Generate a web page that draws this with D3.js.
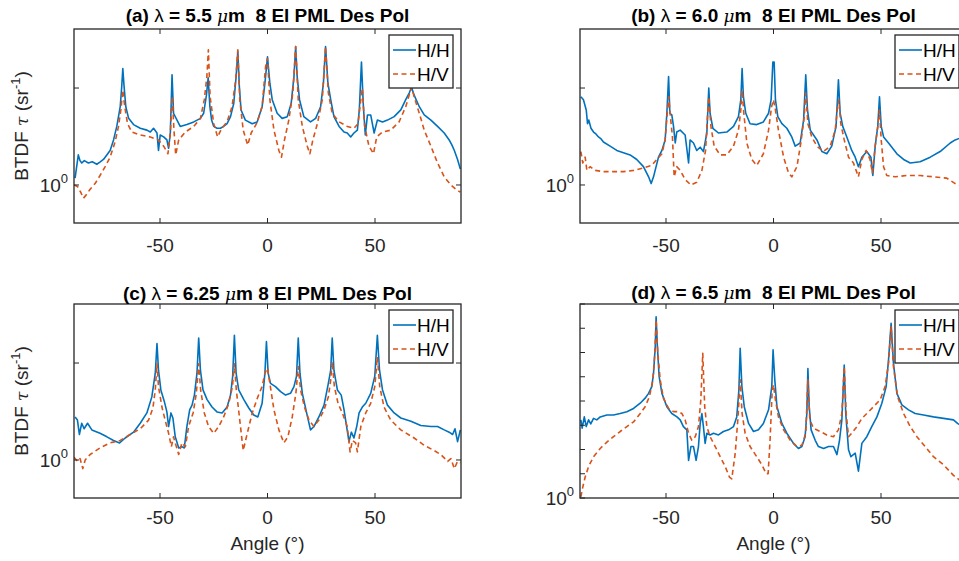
<!DOCTYPE html>
<html>
<head>
<meta charset="utf-8">
<script src="https://cdn.jsdelivr.net/npm/d3@7"></script>
<style>
  body { margin: 0; background: #fff; }
  svg { display: block; font-family: "Liberation Sans", Arial, Helvetica, sans-serif; }
  text { white-space: pre; }
</style>
</head>
<body>
<svg id="fig" width="959" height="561"></svg>
<script>
// BTDF (sr^-1) versus scattering angle (deg), co-polarised (H/H) and cross-polarised (H/V)

const seriesNames = ["H/H", "H/V"];
const xTicks = [-50, 0, 50];

// (a) lambda = 5.5 um
const aHH = [[-89.5,1.05],[-88,1.24],[-87.2,1.19],[-86.4,1.17],[-85.2,1.19],[-83.3,1.17],[-81.5,1.18],[-79.4,1.16],[-77.8,1.18],[-76.3,1.20],[-73.2,1.28],[-71.6,1.38],[-70.1,1.52],[-68.5,1.75],[-67.8,2.02],[-67.3,2.30],[-66.7,2.02],[-65.9,1.75],[-64.6,1.61],[-62.3,1.54],[-59.2,1.50],[-56.1,1.48],[-54.5,1.46],[-53,1.50],[-51.4,1.45],[-50.7,1.28],[-49.9,1.43],[-48.3,1.41],[-46.8,1.38],[-46,1.30],[-45.2,1.45],[-44.4,2.20],[-43.7,1.67],[-42.1,1.59],[-40.6,1.52],[-37.5,1.54],[-34.3,1.57],[-31.2,1.61],[-29.7,1.67],[-28.4,1.90],[-27.6,2.15],[-26.8,1.75],[-26,1.59],[-25,1.52],[-23.5,1.50],[-21.9,1.50],[-20.4,1.52],[-18.8,1.55],[-17.2,1.63],[-15.7,1.79],[-14.6,2.17],[-13.8,2.60],[-13.1,2.02],[-12.3,1.71],[-10.3,1.59],[-7.1,1.55],[-4.8,1.57],[-2.5,1.75],[-1.2,2.07],[0,2.50],[1.1,2.07],[2.2,1.84],[4.5,1.67],[6.8,1.61],[9.2,1.63],[11,1.79],[12.3,2.17],[13.1,2.69],[13.8,2.17],[14.9,1.84],[16.9,1.63],[20,1.57],[22.4,1.61],[24.7,1.75],[26,2.07],[27,2.69],[28.1,2.07],[29.4,1.84],[30.9,1.63],[33.3,1.52],[35.6,1.46],[37.1,1.45],[38.7,1.41],[40.2,1.45],[41.8,1.48],[42.7,1.71],[43.7,2.41],[44.6,1.75],[45.5,1.43],[46.5,1.65],[48,1.65],[49.6,1.45],[51.1,1.59],[53.5,1.57],[55.8,1.59],[58.9,1.63],[62,1.71],[64.3,1.84],[65.9,1.93],[67,2.01],[68.2,1.90],[70.6,1.75],[72.9,1.65],[76,1.59],[79.1,1.52],[82.2,1.45],[84.5,1.38],[85.8,1.33],[86.9,1.28],[88.4,1.20],[89.7,1.12]];
const aHV = [[-90,1.00],[-88.4,0.99],[-86.9,0.95],[-85.6,0.91],[-84.4,0.93],[-82.5,0.97],[-80.2,1.01],[-77.9,1.07],[-75.5,1.14],[-73.2,1.22],[-70.9,1.36],[-69.3,1.52],[-68.2,1.71],[-67.3,1.97],[-66.4,1.75],[-65.1,1.55],[-63.1,1.46],[-59.2,1.43],[-54.5,1.41],[-50.7,1.38],[-48.3,1.32],[-46.3,1.25],[-45.2,1.45],[-44.3,1.88],[-43.5,1.48],[-42.7,1.24],[-41.3,1.38],[-38.2,1.46],[-34.3,1.52],[-31.2,1.61],[-29.4,1.84],[-28.2,2.17],[-27.5,2.63],[-26.7,1.88],[-25,1.55],[-23.2,1.41],[-21.3,1.50],[-18.8,1.57],[-16.5,1.75],[-14.8,2.12],[-13.8,2.63],[-12.9,1.84],[-11.3,1.48],[-9.2,1.33],[-7.6,1.45],[-5.1,1.55],[-2.5,1.75],[-0.9,2.33],[0,2.47],[1.1,1.84],[3,1.48],[5.3,1.28],[6.5,1.22],[7.9,1.38],[9.9,1.59],[11.8,1.93],[13.1,2.69],[14.3,1.84],[16.2,1.52],[18.5,1.32],[19.7,1.25],[21.1,1.38],[23.2,1.55],[25.5,1.84],[27,2.69],[28.3,1.93],[30.1,1.67],[33.3,1.57],[37.1,1.52],[40.2,1.50],[42.1,1.55],[43.4,1.84],[44.1,2.00],[45.2,1.52],[47.2,1.32],[49.3,1.25],[50.8,1.41],[53.5,1.46],[57.3,1.48],[61.2,1.57],[64.3,1.75],[66.2,1.93],[67.1,2.01],[68.2,1.88],[70.6,1.67],[72.9,1.48],[76,1.32],[79.1,1.17],[82.2,1.06],[85.3,1.00],[87.6,0.97],[89.7,0.95]];

// (b) lambda = 6.0 um
const bHH = [[-89.6,1.88],[-88.4,1.84],[-87.1,1.71],[-86.5,1.55],[-85.9,1.59],[-84.9,1.50],[-83.7,1.46],[-82.6,1.44],[-81.4,1.41],[-80.2,1.39],[-79.1,1.36],[-76,1.32],[-72.9,1.28],[-69.8,1.26],[-66.7,1.24],[-63.6,1.20],[-60.5,1.14],[-58.1,1.06],[-56.9,1.01],[-55.8,1.06],[-53.5,1.22],[-51.9,1.28],[-50.4,1.38],[-49.6,1.67],[-48.8,2.17],[-48.2,1.67],[-47.3,1.65],[-46.5,1.52],[-45.7,1.35],[-45,1.46],[-43.4,1.48],[-41.1,1.43],[-39.5,1.17],[-38.8,1.38],[-37.2,1.35],[-35.7,1.28],[-34.1,1.31],[-32.6,1.27],[-31,1.45],[-30.1,2.00],[-29.5,1.67],[-28.2,1.50],[-25.6,1.45],[-21.7,1.46],[-18.6,1.52],[-16.3,1.63],[-15.2,1.84],[-14.6,2.30],[-14,1.88],[-12.9,1.67],[-10.9,1.55],[-7.8,1.54],[-4.7,1.57],[-2.3,1.67],[-1.1,1.84],[-0.3,2.41],[0.3,2.41],[0.9,1.84],[2,1.63],[3.9,1.55],[6.2,1.50],[8.5,1.41],[10.1,1.32],[12.4,1.35],[14,1.59],[15,2.20],[15.8,1.71],[17.1,1.48],[20.2,1.38],[22.5,1.27],[24.8,1.25],[27.1,1.32],[29.1,1.52],[30.2,2.12],[31,1.67],[32.2,1.52],[34.1,1.41],[36.4,1.28],[38,1.22],[39.5,1.14],[41.1,1.22],[43.4,1.27],[45.3,1.22],[46.2,1.07],[47.3,1.32],[48.5,1.52],[49.3,1.88],[50.1,1.52],[51.2,1.41],[53.5,1.35],[57.4,1.25],[60.5,1.20],[63.6,1.17],[68.2,1.18],[72.9,1.22],[77.5,1.27],[82.2,1.35],[84.5,1.38],[87,1.40],[90,1.43]];
const bHV = [[-89.6,1.27],[-88.7,1.17],[-87.6,1.22],[-86.8,1.11],[-85.3,1.14],[-82.9,1.11],[-79.1,1.10],[-74.4,1.10],[-69.8,1.10],[-65.1,1.11],[-60.5,1.13],[-56.6,1.15],[-54.3,1.20],[-51.9,1.25],[-50.4,1.38],[-49.3,1.71],[-48.7,1.88],[-48.1,1.67],[-47,1.41],[-46.2,1.06],[-45,1.14],[-43.4,1.11],[-41.1,1.04],[-38.4,1.00],[-35.7,1.02],[-33.3,1.11],[-31.6,1.28],[-30.7,1.63],[-30.1,1.88],[-29.1,1.52],[-27.6,1.32],[-24.8,1.24],[-21.7,1.24],[-18.6,1.32],[-16.3,1.48],[-15.2,1.71],[-14.6,1.97],[-13.8,1.67],[-12.4,1.35],[-10.1,1.20],[-7.8,1.15],[-4.7,1.25],[-2.3,1.48],[-0.9,1.75],[0,1.84],[0.9,1.71],[2.3,1.48],[4.7,1.22],[7,1.09],[8.5,1.06],[10.9,1.14],[12.7,1.35],[14.3,1.63],[15,1.93],[16,1.55],[17.8,1.41],[20.2,1.32],[23.2,1.27],[26.4,1.32],[28.7,1.48],[29.8,1.75],[30.4,1.84],[31.3,1.55],[32.9,1.38],[34.9,1.22],[37.2,1.17],[39.5,1.06],[41.1,1.20],[43.1,1.28],[44.9,1.20],[46,1.09],[47.3,1.32],[48.5,1.52],[49.3,1.71],[50.1,1.38],[51.2,1.14],[52.7,1.07],[56.6,1.06],[62,1.07],[68.2,1.07],[74.4,1.06],[80.6,1.05],[84.5,1.01],[86.3,1.00],[90,0.99]];

// (c) lambda = 6.25 um
const cHH = [[-89.5,1.36],[-88.4,1.33],[-87.5,1.20],[-86.4,1.30],[-85.3,1.25],[-83.7,1.30],[-81.7,1.24],[-77.9,1.21],[-74.7,1.18],[-71.6,1.15],[-68.8,1.13],[-66.2,1.17],[-62.3,1.22],[-59.2,1.30],[-56.1,1.40],[-53.8,1.57],[-52.2,1.86],[-51.4,2.30],[-50.7,1.90],[-49.6,1.65],[-48,1.52],[-46.8,1.41],[-46,1.27],[-44.9,1.40],[-44,1.35],[-42.9,1.18],[-41.3,1.09],[-39.8,1.10],[-38.7,1.09],[-37.5,1.27],[-36.2,1.43],[-35.1,1.48],[-34,1.59],[-32.8,1.86],[-32,2.39],[-31.2,1.90],[-30,1.65],[-28.1,1.54],[-25.8,1.46],[-23.5,1.41],[-21.1,1.40],[-18.8,1.46],[-17.2,1.59],[-16.2,1.82],[-15.4,2.44],[-14.6,1.86],[-13.4,1.65],[-11,1.54],[-8.7,1.45],[-6.4,1.38],[-4.5,1.36],[-2.5,1.50],[-1.2,1.86],[-0.5,2.33],[0.3,1.86],[1.4,1.73],[3.7,1.69],[6.1,1.63],[8.4,1.59],[10.7,1.61],[12.3,1.69],[13.5,1.82],[14.3,2.39],[15.1,1.86],[16.2,1.61],[18.2,1.40],[20,1.24],[21.6,1.27],[23.9,1.36],[26.3,1.48],[28.3,1.73],[29.4,1.90],[30.1,2.39],[30.9,1.90],[32.5,1.65],[34.3,1.59],[35.6,1.43],[36.8,1.27],[37.9,1.14],[39,1.22],[40.2,1.17],[41.5,1.27],[42.6,1.40],[44.1,1.46],[45.7,1.50],[48,1.61],[49.9,1.82],[51.1,2.44],[52.1,1.90],[53.5,1.65],[55.8,1.48],[58.9,1.40],[62,1.35],[66.7,1.32],[71.3,1.28],[76,1.27],[79.1,1.27],[82.2,1.24],[84.5,1.22],[86.1,1.20],[87.2,1.25],[88.4,1.14],[89.7,1.24]];
const cHV = [[-90,1.02],[-88.4,0.99],[-87.2,1.01],[-85.9,0.94],[-84.8,1.00],[-82.5,1.04],[-77.9,1.09],[-73.2,1.13],[-68.5,1.15],[-63.9,1.20],[-59.2,1.25],[-55.3,1.33],[-53.3,1.45],[-52.2,1.65],[-51.4,1.99],[-50.7,1.69],[-49.1,1.46],[-47.6,1.33],[-46,1.21],[-44.7,1.10],[-43.7,1.18],[-42.4,1.10],[-41.3,1.04],[-39.8,1.13],[-38.2,1.10],[-36.7,1.27],[-34.6,1.40],[-33.1,1.61],[-32,1.99],[-31.1,1.65],[-29.4,1.40],[-27.4,1.27],[-25,1.21],[-22.7,1.27],[-20.4,1.36],[-18,1.50],[-16.3,1.69],[-15.4,1.99],[-14.5,1.65],[-12.9,1.33],[-11.3,1.07],[-9.8,1.18],[-7.1,1.40],[-4.5,1.57],[-2.5,1.69],[-1.2,1.86],[0,1.93],[1.1,1.73],[3,1.43],[5.3,1.24],[7.6,1.13],[9.5,1.18],[11.5,1.36],[13.2,1.61],[14.3,1.95],[15.4,1.65],[17.2,1.46],[19.3,1.33],[21.6,1.27],[23.9,1.33],[26.3,1.43],[28.3,1.57],[29.4,1.77],[30.1,2.02],[31.1,1.69],[32.8,1.50],[34.8,1.40],[37.1,1.27],[38.4,1.06],[39.5,1.15],[41,1.13],[41.8,1.06],[43.4,1.27],[45.7,1.40],[48,1.50],[49.9,1.69],[51.1,2.09],[52.2,1.69],[54.2,1.46],[57.3,1.33],[62,1.24],[68.2,1.17],[72.9,1.11],[77.5,1.07],[80.6,1.04],[83.8,0.99],[85.3,1.01],[86.9,0.94],[88.4,0.99],[89.7,0.98]];

// (d) lambda = 6.5 um
const dHH = [[-89.6,2.10],[-89,1.94],[-88,2.16],[-87.1,1.97],[-86,2.10],[-85,2.02],[-83.7,2.13],[-82.2,2.10],[-80.6,2.16],[-77.5,2.20],[-74.4,2.20],[-71.3,2.23],[-68.2,2.27],[-65.1,2.34],[-62,2.46],[-59.7,2.58],[-58.1,2.70],[-56.6,2.88],[-55.8,3.27],[-55,4.21],[-54.6,5.59],[-54,4.21],[-53.2,3.17],[-51.9,2.70],[-49.6,2.38],[-47.3,2.23],[-44.9,2.16],[-43.4,2.10],[-41.9,1.97],[-40.3,1.91],[-39.5,1.43],[-38.4,1.63],[-37.2,1.63],[-36,1.43],[-34.9,1.63],[-34.1,2.03],[-33.3,2.23],[-32.6,1.97],[-31.8,1.68],[-31,1.85],[-29.5,1.82],[-27.9,1.85],[-25.6,1.82],[-23.3,1.88],[-20.9,1.91],[-18.6,1.97],[-17.1,2.16],[-16.1,2.79],[-15.5,4.14],[-14.7,2.88],[-13.6,2.38],[-11.6,2.03],[-9.3,1.88],[-7,1.91],[-4.7,2.03],[-2.3,2.31],[-0.8,2.88],[-0.2,4.08],[0.6,3.07],[1.6,2.38],[3.9,2.03],[6.2,1.85],[9.3,1.68],[11.6,1.60],[13.2,1.63],[14.7,1.79],[15.5,2.23],[16,3.42],[16.6,2.38],[17.5,1.91],[19.4,1.73],[20.9,1.63],[23.3,1.60],[25.6,1.63],[27.9,1.63],[29.5,1.51],[30.7,1.73],[31.8,2.10],[32.9,3.53],[33.6,2.23],[34.9,1.58],[36,1.48],[38,1.53],[39.5,1.29],[41.1,1.68],[43.4,1.79],[45.7,1.97],[48.1,2.16],[50.4,2.46],[52.4,2.88],[53.5,3.71],[54.7,5.25],[55.8,3.59],[57.4,2.70],[59.7,2.42],[62.8,2.31],[65.9,2.23],[69.8,2.20],[74.4,2.16],[79.1,2.13],[83.7,2.10],[85.6,2.03],[88,1.97],[90,2.00]];
const dHV = [[-89.6,1.01],[-88.7,1.11],[-87.6,1.22],[-86,1.35],[-83.7,1.48],[-80.6,1.60],[-77.5,1.70],[-74.4,1.79],[-71.3,1.88],[-68.2,1.97],[-65.1,2.06],[-62,2.23],[-59.7,2.38],[-57.7,2.62],[-56.1,3.07],[-55.2,3.95],[-54.6,5.42],[-53.8,3.95],[-52.7,3.07],[-51.2,2.58],[-48.8,2.34],[-46.5,2.27],[-44.2,2.27],[-42.6,2.23],[-41.1,2.10],[-39.5,1.85],[-38,1.73],[-36.4,1.79],[-34.9,1.97],[-33.8,2.54],[-32.9,3.95],[-32,2.38],[-31,1.97],[-29.5,1.79],[-27.1,1.63],[-24.8,1.48],[-22.5,1.35],[-20.5,1.22],[-19.4,1.20],[-17.8,1.53],[-16.6,2.10],[-15.5,3.07],[-14.6,2.23],[-13.2,1.85],[-10.9,1.63],[-7.8,1.48],[-5.4,1.37],[-3.4,1.26],[-2.5,1.26],[-1.6,1.73],[-0.6,2.79],[0,2.93],[0.9,2.54],[2.3,2.16],[4.7,1.91],[7.8,1.73],[10.9,1.63],[13.2,1.65],[15,1.85],[16,3.07],[16.9,2.10],[18.6,1.94],[21.7,1.88],[24.8,1.82],[27.9,1.79],[30.2,1.91],[31.8,2.23],[32.9,3.48],[33.8,2.23],[34.9,1.79],[36.4,1.85],[38.8,1.97],[41.1,2.13],[43.4,2.23],[46.5,2.38],[49.6,2.54],[51.9,2.88],[53.5,3.59],[54.7,5.09],[55.8,3.48],[57.7,2.62],[60.5,2.23],[63.6,1.97],[66.7,1.79],[70.5,1.63],[74.4,1.48],[79.1,1.37],[83.7,1.24],[86.3,1.19],[88,1.14],[90,1.08]];

// y ranges and tick values (log axes)
const yRangeABC = [0.762, 3.05];
const yTicksABC = [1, 2];
const yRangeD = [1, Math.pow(10, 0.8)];
const yTicksD = d3.range(0, 9).map(k => Math.pow(10, k / 10));

const panels = [
  { letter: "(a)", wl: "5.5",  gap: "  ", hh: aHH, hv: aHV, x0: 74,  y0: 29,  yr: yRangeABC, yt: yTicksABC, ylab: true,  xlab: false, titleY: 22,  tickY: 252 },
  { letter: "(b)", wl: "6.0",  gap: "  ", hh: bHH, hv: bHV, x0: 580, y0: 29,  yr: yRangeABC, yt: yTicksABC, ylab: false, xlab: false, titleY: 22,  tickY: 252 },
  { letter: "(c)", wl: "6.25", gap: " ",  hh: cHH, hv: cHV, x0: 74,  y0: 304, yr: yRangeABC, yt: yTicksABC, ylab: true,  xlab: true,  titleY: 300, tickY: 524 },
  { letter: "(d)", wl: "6.5",  gap: "  ", hh: dHH, hv: dHV, x0: 580, y0: 304, yr: yRangeD,   yt: yTicksD,   ylab: false, xlab: true,  titleY: 299, tickY: 524 }
];

const W = 387, H = 194;
const axisColor = "#262626";
const colors = ["#0072BD", "#D95319"];
const dashes = [null, "5,3.5"];
const fs = 19;

const svg = d3.select("#fig");

panels.forEach((p, i) => {
  const g = svg.append("g").attr("transform", `translate(${p.x0},${p.y0})`);
  const x = d3.scaleLinear().domain([-90, 90]).range([0, W]);
  const y = d3.scaleLog().domain(p.yr).range([H, 0]);

  // clip region for the curves
  const clipId = "clip" + i;
  g.append("clipPath").attr("id", clipId)
    .append("rect").attr("width", W).attr("height", H);

  const line = d3.line().x(d => x(d[0])).y(d => y(d[1]));
  const plot = g.append("g").attr("clip-path", `url(#${clipId})`);
  [p.hh, p.hv].forEach((s, k) => {
    plot.append("path").datum(s)
      .attr("d", line)
      .attr("fill", "none")
      .attr("stroke", colors[k])
      .attr("stroke-width", 1.6)
      .attr("stroke-linejoin", "round")
      .attr("stroke-dasharray", dashes[k]);
  });

  // box
  g.append("rect").attr("width", W).attr("height", H)
    .attr("fill", "none").attr("stroke", axisColor).attr("stroke-width", 1.3);

  // x ticks (inside, bottom and top) with labels
  const tl = 5;
  xTicks.forEach(t => {
    const xx = x(t);
    g.append("line").attr("x1", xx).attr("x2", xx).attr("y1", H).attr("y2", H - tl)
      .attr("stroke", axisColor).attr("stroke-width", 1);
    g.append("line").attr("x1", xx).attr("x2", xx).attr("y1", 0).attr("y2", tl)
      .attr("stroke", axisColor).attr("stroke-width", 1);
    svg.append("text").attr("x", p.x0 + xx).attr("y", p.tickY)
      .attr("text-anchor", "middle").attr("font-size", fs).attr("fill", axisColor)
      .text(String(t));
  });

  // y ticks (inside, left and right)
  p.yt.forEach(t => {
    const yy = y(t);
    g.append("line").attr("x1", 0).attr("x2", tl).attr("y1", yy).attr("y2", yy)
      .attr("stroke", axisColor).attr("stroke-width", 1);
    g.append("line").attr("x1", W).attr("x2", W - tl).attr("y1", yy).attr("y2", yy)
      .attr("stroke", axisColor).attr("stroke-width", 1);
  });
  // decade label 10^0
  const lab = g.append("text").attr("x", -6).attr("y", y(1) + 7)
    .attr("text-anchor", "end").attr("font-size", fs).attr("fill", axisColor);
  lab.append("tspan").text("10");
  lab.append("tspan").attr("dy", -9).attr("font-size", 13).text("0");

  // title
  const tt = svg.append("text").attr("x", p.x0 + W / 2).attr("y", p.titleY)
    .attr("text-anchor", "middle").attr("font-size", fs).attr("font-weight", "bold").attr("fill", "#000");
  tt.append("tspan").text(p.letter + " ");
  tt.append("tspan").attr("font-weight", "normal").text("λ");
  tt.append("tspan").text(" = " + p.wl + " ");
  tt.append("tspan").attr("font-style", "italic").attr("font-weight", "normal")
    .attr("font-family", "'DejaVu Serif', serif").attr("font-size", fs - 2).text("μ");
  tt.append("tspan").text("m" + p.gap + "8 El PML Des Pol");

  // y label
  if (p.ylab) {
    const yl = svg.append("text")
      .attr("transform", `translate(${p.x0 - 46},${p.y0 + H / 2}) rotate(-90)`)
      .attr("text-anchor", "middle").attr("font-size", fs).attr("fill", axisColor);
    yl.append("tspan").text("BTDF ");
    yl.append("tspan").attr("font-style", "italic").attr("font-family", "'DejaVu Serif', serif")
      .attr("font-size", fs - 2).text("τ");
    yl.append("tspan").text(" (sr");
    yl.append("tspan").attr("dy", -8).attr("font-size", 13).text("-1");
    yl.append("tspan").attr("dy", 8).text(")");
  }

  // x label
  if (p.xlab) {
    svg.append("text").attr("x", p.x0 + W / 2).attr("y", 550)
      .attr("text-anchor", "middle").attr("font-size", fs).attr("fill", axisColor)
      .text("Angle (°)");
  }

  // legend
  const lg = g.append("g").attr("transform", `translate(${W - 72},6)`);
  lg.append("rect").attr("width", 64).attr("height", 53)
    .attr("fill", "#fff").attr("stroke", axisColor).attr("stroke-width", 1.3);
  seriesNames.forEach((n, k) => {
    const ly = 15 + k * 24;
    lg.append("line").attr("x1", 4).attr("x2", 27).attr("y1", ly).attr("y2", ly)
      .attr("stroke", colors[k]).attr("stroke-width", 1.6)
      .attr("stroke-dasharray", dashes[k]);
    lg.append("text").attr("x", 28).attr("y", ly + 7).attr("font-size", fs).attr("fill", "#000")
      .text(n);
  });
});
</script>
</body>
</html>
